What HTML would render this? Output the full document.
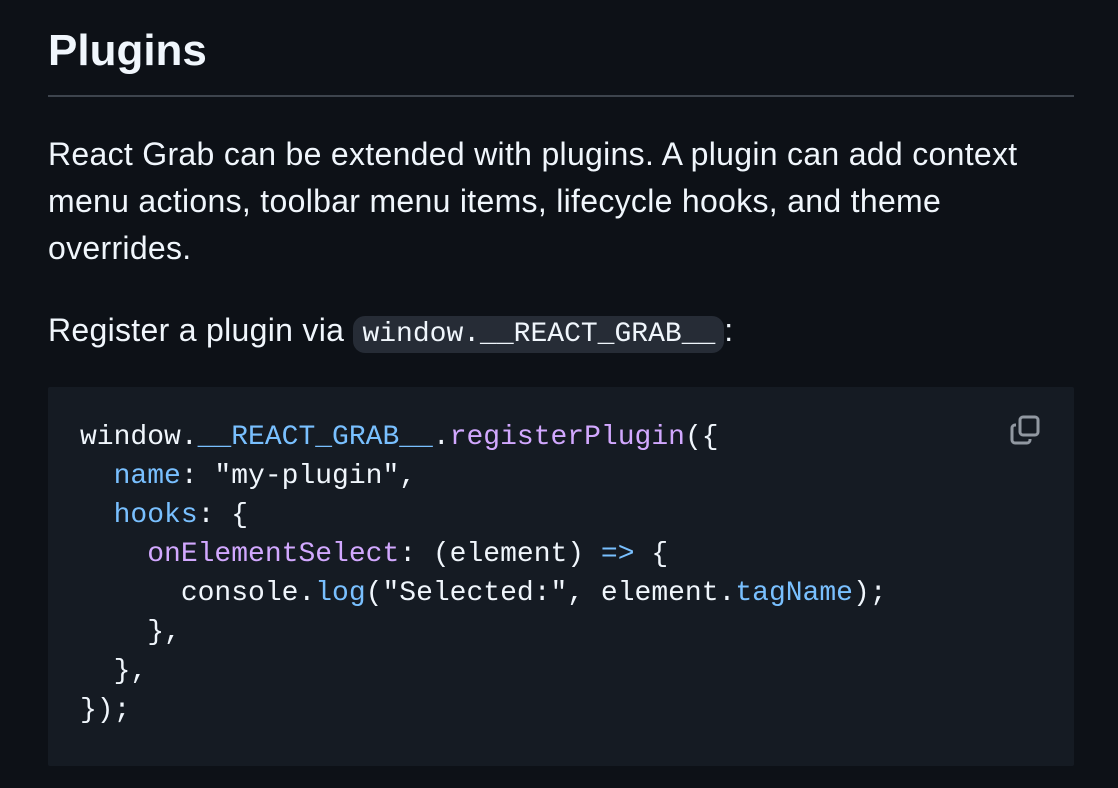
<!DOCTYPE html>
<html><head><meta charset="utf-8"><style>
html,body{margin:0;padding:0;background:#0d1117;width:1118px;height:788px;overflow:hidden}
body{font-family:"Liberation Sans",sans-serif;color:#f0f6fc;position:relative}
h1{position:absolute;left:48px;top:24px;margin:0;font-size:44px;font-weight:bold;line-height:54px}
.hr{position:absolute;left:48px;top:95px;width:1026px;height:2px;background:#3d444d}
p{position:absolute;left:48px;margin:0;font-size:32px;line-height:47px;width:990px;letter-spacing:0.3px}
.ic{font-family:"Liberation Mono",monospace;font-size:28px;background:#262c36;border-radius:12px;padding:3px 9px;letter-spacing:0}
.code{position:absolute;left:48px;top:387px;width:1026px;height:379px;background:#151b23;border-radius:2px}
pre{position:absolute;left:80px;top:418px;margin:0;font-family:"Liberation Mono",monospace;font-size:28px;line-height:39px;color:#f0f6fc}
.b{color:#79c0ff}.p{color:#d2a8ff}
</style></head><body>
<h1>Plugins</h1>
<div class="hr"></div>
<p style="top:131px">React Grab can be extended with plugins. A plugin can add context menu actions, toolbar menu items, lifecycle hooks, and theme overrides.</p>
<p style="top:307px">Register a plugin via <span class="ic">window.__REACT_GRAB__</span>:</p>
<div class="code"></div>
<svg style="position:absolute;left:1008px;top:413px" width="36" height="36" viewBox="0 0 36 36" fill="none" stroke="#9198a1" stroke-width="3"><rect x="12" y="4" width="18" height="18" rx="3"/><path d="M8 12h-1a3 3 0 0 0-3 3v12a3 3 0 0 0 3 3h12a3 3 0 0 0 3-3v-1"/></svg>
<pre>window.<span class="b">__REACT_GRAB__</span>.<span class="p">registerPlugin</span>({
  <span class="b">name</span>: "my-plugin",
  <span class="b">hooks</span>: {
    <span class="p">onElementSelect</span>: (element) <span class="b">=&gt;</span> {
      console.<span class="b">log</span>("Selected:", element.<span class="b">tagName</span>);
    },
  },
});</pre>
</body></html>
